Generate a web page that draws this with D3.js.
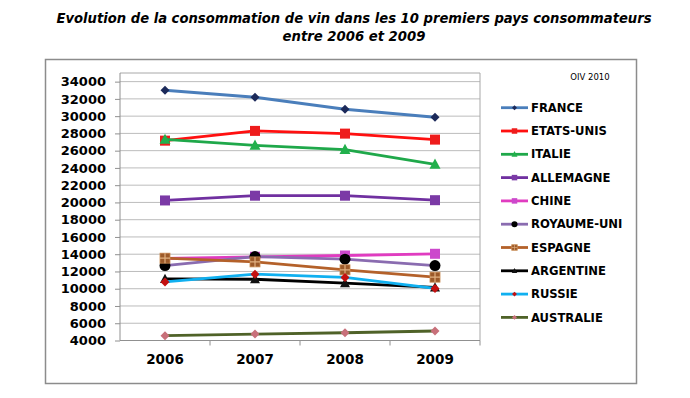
<!DOCTYPE html>
<html><head><meta charset="utf-8">
<script src="https://cdn.jsdelivr.net/npm/d3@7"></script>
<style>body{margin:0;background:#fff}svg{display:block}</style>
</head><body>
<script>
const years = ["2006","2007","2008","2009"];
const yTicks = [4000,6000,8000,10000,12000,14000,16000,18000,20000,22000,24000,26000,28000,30000,32000,34000];
const france     = [33000, 32190, 30800, 29870];
const etatsUnis  = [27160, 28290, 27975, 27280];
const italie     = [27300, 26620, 26120, 24410];
const allemagne  = [20230, 20780, 20780, 20260];
const chine      = [13500, 13700, 13850, 14050];
const royaumeUni = [12680, 13730, 13430, 12680];
const espagne    = [13540, 13110, 12190, 11340];
const argentine  = [11140, 11100, 10640, 10150];
const russie     = [10790, 11690, 11310, 10040];
const australie  = [4560, 4750, 4900, 5100];
const seriesNames = ["FRANCE","ETATS-UNIS","ITALIE","ALLEMAGNE","CHINE","ROYAUME-UNI","ESPAGNE","ARGENTINE","RUSSIE","AUSTRALIE"];
const seriesValues = [france, etatsUnis, italie, allemagne, chine, royaumeUni, espagne, argentine, russie, australie];
const titleLines = ["Evolution de la consommation de vin dans les 10 premiers pays consommateurs","entre 2006 et 2009"];
const sourceNote = "OIV 2010";

const styles = [
  {line:"#4a7ebb", fill:"#1c2a5a", shape:"diamond", size:9},
  {line:"#ff1010", fill:"#ee1c1c", shape:"square", size:10},
  {line:"#1fa84a", fill:"#22b04c", shape:"triangle", size:11},
  {line:"#7030a0", fill:"#7b3aa6", shape:"square", size:10},
  {line:"#e03cc0", fill:"#cc48cc", shape:"square", size:10},
  {line:"#8a6cb0", fill:"#000000", shape:"circle", size:11},
  {line:"#b4612a", fill:"#9c5a2a", shape:"squareX", size:10},
  {line:"#000000", fill:"#111111", shape:"triangle", size:10},
  {line:"#10b0f0", fill:"#c41010", shape:"diamond", size:9},
  {line:"#4f6228", fill:"#c8707a", shape:"diamond", size:9}
];

const W = 690, H = 398;
const svg = d3.select("body").append("svg").attr("width", W).attr("height", H);

// title
const title = svg.append("g").attr("font-family","DejaVu Sans").attr("font-weight","bold").attr("font-style","italic").attr("fill","#000");
title.append("text").attr("x",354).attr("y",23).attr("text-anchor","middle").attr("font-size",13).text(titleLines[0]);
title.append("text").attr("x",354).attr("y",41).attr("text-anchor","middle").attr("font-size",13).text(titleLines[1]);
// fit line widths
title.selectAll("text").each(function(d,i){
  const target = i===0 ? 596 : 143;
  const w = this.getComputedTextLength();
  d3.select(this).attr("font-size", 13*target/w);
});

// chart border
svg.append("rect").attr("x",45.5).attr("y",59.5).attr("width",591).attr("height",324)
  .attr("fill","#fff").attr("stroke","#8c8c8c").attr("stroke-width",1.5);

const L = 120, R = 480, T = 73, B = 340.5;
const x = d3.scaleBand().domain(years).range([L, R]);
const cx = d => x(d) + x.bandwidth()/2;
const y = d3.scaleLinear().domain([4000, 35000]).range([B, T]);

// gridlines
svg.append("g").selectAll("line").data(yTicks.slice(1)).join("line")
  .attr("x1",L).attr("x2",R).attr("y1",d=>y(d)).attr("y2",d=>y(d))
  .attr("stroke","#bcbcbc").attr("stroke-width",1);
// plot border top & right
svg.append("path").attr("d",`M${L},${y(35000)}H${R}V${B}`).attr("fill","none").attr("stroke","#a8a8a8").attr("stroke-width",1);

// y axis
const ya = svg.append("g").attr("transform",`translate(${L},0)`)
  .call(d3.axisLeft(y).tickValues(yTicks).tickSize(5).tickPadding(9).tickFormat(d3.format("d")));
ya.select(".domain").attr("stroke","#909090").attr("d",`M0,${B}V${y(35000)}`);
ya.selectAll(".tick line").attr("stroke","#909090");
ya.selectAll("text").attr("font-family","DejaVu Sans").attr("font-weight","bold").attr("font-size",13).attr("fill","#000");

// x axis
const xa = svg.append("g").attr("transform",`translate(0,${B})`)
  .call(d3.axisBottom(x).tickSize(0).tickPadding(14));
xa.select(".domain").attr("stroke","#909090").attr("d",`M${L},0H${R}`);
xa.selectAll("text").attr("font-family","DejaVu Sans").attr("font-weight","bold").attr("font-size",13.5).attr("fill","#000");
xa.selectAll(".btick").data(years.slice(1).concat(["end"])).join("line")
  .attr("x1",d=>d==="end"?R:x(d)).attr("x2",d=>d==="end"?R:x(d)).attr("y1",0).attr("y2",5)
  .attr("stroke","#909090");

function marker(g, s, scale){
  const r = s.size/2*scale;
  let el;
  if (s.shape==="circle") el = g.append("circle").attr("r", r);
  else if (s.shape==="square" || s.shape==="squareX") el = g.append("rect").attr("x",-r).attr("y",-r).attr("width",2*r).attr("height",2*r);
  else if (s.shape==="diamond") el = g.append("path").attr("d",`M0,${-r}L${r},0L0,${r}L${-r},0Z`);
  else el = g.append("path").attr("d",`M0,${-r*1.05}L${r},${r*0.8}L${-r},${r*0.8}Z`);
  el.attr("fill", s.fill);
  if (s.shape==="squareX"){
    el.attr("stroke","#c88a50").attr("stroke-width",0.8);
    g.append("path").attr("d",`M${-r},0H${r}M0,${-r}V${r}`).attr("stroke","#e0b080").attr("stroke-width",1.2*scale);
  }
}

// series
const line = d3.line().x((d,i)=>cx(years[i])).y(d=>y(d));
seriesValues.forEach((vals, k) => {
  const s = styles[k];
  const g = svg.append("g");
  g.append("path").datum(vals).attr("d", line).attr("fill","none").attr("stroke", s.line).attr("stroke-width",2.8).attr("stroke-linejoin","round");
  vals.forEach((v,i) => {
    const m = g.append("g").attr("transform",`translate(${cx(years[i])},${y(v)})`);
    marker(m, s, 1);
  });
});

// source note
svg.append("text").attr("x",590).attr("y",80).attr("text-anchor","middle").attr("font-family","DejaVu Sans").attr("font-size",8.5).attr("fill","#000").text(sourceNote);

// legend
const lg = svg.append("g");
seriesNames.forEach((name,k) => {
  const s = styles[k];
  const yy = 107.7 + k*23.3;
  lg.append("line").attr("x1",501).attr("x2",528).attr("y1",yy).attr("y2",yy).attr("stroke",s.line).attr("stroke-width",2.8);
  const m = lg.append("g").attr("transform",`translate(514.5,${yy})`);
  marker(m, s, 0.55);
  lg.append("text").attr("x",531).attr("y",yy).attr("dy","0.36em").attr("font-family","DejaVu Sans").attr("font-weight","bold").attr("font-size",11.6).attr("fill","#000").text(name);
});
</script>
</body></html>
